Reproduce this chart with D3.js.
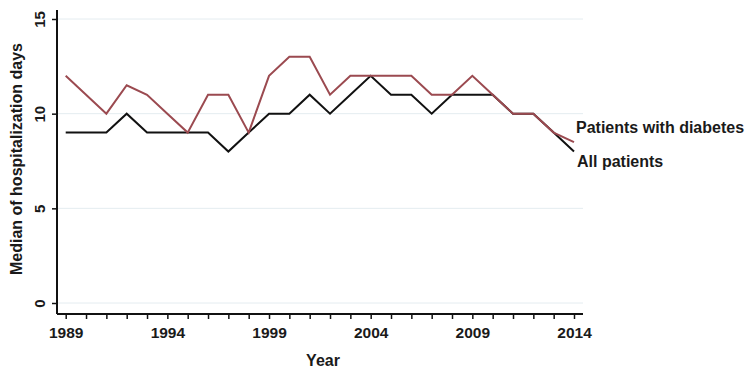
<!DOCTYPE html>
<html>
<head>
<meta charset="utf-8">
<script src="https://cdn.jsdelivr.net/npm/d3@7"></script>
<style>
  body { margin: 0; background: #fff; }
  text { font-family: "Liberation Sans", Arial, sans-serif; font-weight: bold; fill: #1a1a1a; }
</style>
</head>
<body>
<div id="chart"></div>
<script>
var years = d3.range(1989, 2015);
var allPatients = [9, 9, 9, 10, 9, 9, 9, 9, 8, 9, 10, 10, 11, 10, 11, 12, 11, 11, 10, 11, 11, 11, 10, 10, 9, 8];
var diabetes = [12, 11, 10, 11.5, 11, 10, 9, 11, 11, 9, 12, 13, 13, 11, 12, 12, 12, 12, 11, 11, 12, 11, 10, 10, 9, 8.5];
var xTicks = [1989, 1994, 1999, 2004, 2009, 2014];
var yTicks = [0, 5, 10, 15];

var width = 750, height = 375;
var margin = {top: 19, right: 167, bottom: 72, left: 57};

var svg = d3.select('#chart')
    .append('svg')
    .attr('width', width)
    .attr('height', height);

var x = d3.scaleLinear().domain([1989, 2014]).range([65.7, 574]);
var y = d3.scaleLinear().domain([0, 15]).range([303, 19]);
var plotRight = 583, axisY = 314;

// grid lines
svg.append('g')
    .selectAll('line')
    .data(yTicks)
    .enter().append('line')
    .attr('x1', margin.left)
    .attr('x2', plotRight)
    .attr('y1', d => y(d))
    .attr('y2', d => y(d))
    .style('stroke', '#e4ecf0')
    .style('stroke-width', 1);

// y axis
var yAxis = svg.append('g')
    .attr('transform', `translate(${margin.left},0)`)
    .call(d3.axisLeft(y).tickValues(yTicks).tickSize(5).tickSizeOuter(0).tickPadding(4));
yAxis.select('.domain').remove();
yAxis.append('line')
    .attr('x1', 0).attr('x2', 0)
    .attr('y1', 10).attr('y2', axisY)
    .style('stroke', '#111').style('stroke-width', 2);
yAxis.selectAll('.tick line').style('stroke', '#111').style('stroke-width', 1.5);
yAxis.selectAll('.tick text')
    .attr('x', null).attr('dy', null)
    .attr('transform', 'translate(-12,0) rotate(-90)')
    .attr('text-anchor', 'middle')
    .style('font-size', '15px')
    .style('fill', '#1a1a1a');

// x axis
var xAxis = svg.append('g')
    .attr('transform', `translate(0,${axisY})`)
    .call(d3.axisBottom(x).tickValues(years).tickSize(5).tickSizeOuter(0).tickFormat(d => xTicks.indexOf(d) >= 0 ? d : ''));
xAxis.select('.domain').remove();
xAxis.append('line')
    .attr('x1', margin.left).attr('x2', plotRight)
    .attr('y1', 0).attr('y2', 0)
    .style('stroke', '#111').style('stroke-width', 2);
xAxis.selectAll('.tick line').style('stroke', '#111').style('stroke-width', 1.5);
xAxis.selectAll('.tick text')
    .attr('y', 13)
    .style('font-size', '15.5px')
    .style('fill', '#1a1a1a');

// axis titles
svg.append('text')
    .attr('x', 323)
    .attr('y', 366)
    .attr('text-anchor', 'middle')
    .style('font-size', '16px')
    .text('Year');

svg.append('text')
    .attr('transform', 'translate(22,159) rotate(-90)')
    .attr('text-anchor', 'middle')
    .style('font-size', '16px')
    .text('Median of hospitalization days');

// lines
var line = d3.line()
    .x((d, i) => x(years[i]))
    .y(d => y(d));

svg.append('path')
    .datum(allPatients)
    .attr('d', line)
    .style('fill', 'none')
    .style('stroke', '#111')
    .style('stroke-width', 2);

svg.append('path')
    .datum(diabetes)
    .attr('d', line)
    .style('fill', 'none')
    .style('stroke', '#9b4a50')
    .style('stroke-width', 2);

// labels
svg.append('text')
    .attr('x', 576)
    .attr('y', 133)
    .style('font-size', '16px')
    .text('Patients with diabetes');

svg.append('text')
    .attr('x', 577)
    .attr('y', 167)
    .style('font-size', '16px')
    .text('All patients');
</script>
</body>
</html>
